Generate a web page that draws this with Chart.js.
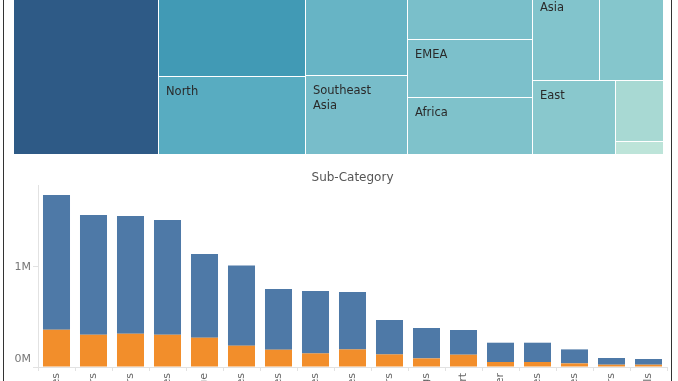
<!DOCTYPE html>
<html><head><meta charset="utf-8">
<script src="https://cdn.jsdelivr.net/npm/chart.js@4.4.1/dist/chart.umd.min.js"></script>
<style>
html,body{margin:0;padding:0;background:#fff;overflow:hidden;width:678px;height:381px;position:relative}
#tm{position:absolute;left:13px;top:-23px}
#bars{position:absolute;left:0;top:160px}
#frame{position:absolute;left:3px;top:0;width:667px;height:381px;border-left:1px solid #333;border-right:1px solid #333;pointer-events:none}
</style></head><body>
<canvas id="tm" width="650" height="177"></canvas>
<canvas id="bars" width="678" height="221"></canvas>
<div id="frame"></div>
<script>
// ---- Treemap data (Sales by Region) ----
const regionNames = ['Central','South','North','Oceania','Southeast Asia','North Asia','EMEA','Africa','Central Asia','West','East','Caribbean','Canada'];
const regionSales = [2822303,1600907,1248166,1100185,884423,848310,806161,783773,752827,725458,678781,324281,66928];
// squarified grouping of region indices (columns, then nested splits)
const treemapGroups = [[0],[1,2],[3,4],[5,6,7],[[8,9],[10,[11,12]]]];
const regionColors = ['#2e5a86','#419ab5','#58acc1','#67b4c5','#78bdca','#7abfca','#7cc0cb','#7fc2cb','#82c4cc','#85c6cc','#89c8cd','#a8d9d3','#bde4d9'];

// ---- Bar chart data (Sales by Sub-Category) ----
const subCategories = ['Phones','Copiers','Chairs','Bookcases','Storage','Appliances','Machines','Tables','Accessories','Binders','Furnishings','Art','Paper','Supplies','Envelopes','Fasteners','Labels'];
const salesHighlighted = [373000,323000,333000,323000,293000,213000,173000,136000,176000,126000,86000,123000,50000,50000,36000,23000,23000];
const salesOther = [1347000,1197000,1177000,1147000,837000,803000,607000,624000,574000,344000,304000,247000,193000,193000,140000,67000,57000];
const yTickValues = [0, 1000000];

Chart.defaults.font.family = '"DejaVu Sans", Verdana, sans-serif';

// ---- Treemap layout (slice-and-dice over the grouping, sized by value) ----
function sumNode(n){ return typeof n === 'number' ? regionSales[n] : n.reduce((s,c)=>s+sumNode(c),0); }
function layoutNode(n,x0,x1,y0,y1,horiz,out){
  if (typeof n === 'number'){ out.push({i:n,x0,x1,y0,y1}); return; }
  const total = sumNode(n); let pos = horiz ? x0 : y0;
  n.forEach(c=>{
    const f = sumNode(c)/total;
    if (horiz){ const w=(x1-x0)*f; layoutNode(c,pos,pos+w,y0,y1,false,out); pos+=w; }
    else { const h=(y1-y0)*f; layoutNode(c,x0,x1,pos,pos+h,true,out); pos+=h; }
  });
}
const totalSales = sumNode(treemapGroups);
const cells = [];
layoutNode(treemapGroups,0,totalSales,0,1,true,cells);

function isDark(hex){ const r=parseInt(hex.substr(1,2),16),g=parseInt(hex.substr(3,2),16),b=parseInt(hex.substr(5,2),16); return (0.299*r+0.587*g+0.114*b) < 110; }

const treemapPlugin = {
  id:'treemapCells',
  afterDatasetsDraw(chart){
    const {ctx, scales:{x,y}} = chart;
    ctx.save();
    cells.forEach(c=>{
      const L=Math.round(x.getPixelForValue(c.x0)), R=Math.round(x.getPixelForValue(c.x1));
      const T=Math.round(y.getPixelForValue(c.y0)), B=Math.round(y.getPixelForValue(c.y1));
      ctx.fillStyle = regionColors[c.i];
      ctx.fillRect(L+1, T+1, R-L-1, B-T-1);
      // label
      ctx.font = '11.5px "DejaVu Sans", Verdana, sans-serif';
      ctx.textBaseline = 'alphabetic'; ctx.textAlign = 'left';
      ctx.fillStyle = isDark(regionColors[c.i]) ? '#ffffff' : '#2a2a2a';
      const avail = R-L-20;
      const words = regionNames[c.i].split(' ');
      const lines=[]; let cur='';
      words.forEach(w=>{ const t = cur ? cur+' '+w : w; if (ctx.measureText(t).width <= avail) cur=t; else { if(cur) lines.push(cur); cur=w; } });
      if (cur) lines.push(cur);
      if (lines.some(l=>ctx.measureText(l).width > avail)) return;
      lines.forEach((ln,k)=>{ const by = T+19+15*k; if (by+3 <= B) ctx.fillText(ln, L+8, by); });
    });
    ctx.restore();
  }
};

new Chart(document.getElementById('tm'), {
  type:'scatter',
  data:{datasets:[{data:[]}]},
  options:{responsive:false, animation:false, events:[], layout:{padding:0},
    plugins:{legend:{display:false}, tooltip:{enabled:false}},
    scales:{x:{type:'linear',min:0,max:totalSales,display:false}, y:{type:'linear',min:0,max:1,reverse:true,display:false}}},
  plugins:[treemapPlugin]
});

// ---- Bar chart ----
new Chart(document.getElementById('bars'), {
  type:'bar',
  data:{labels:subCategories, datasets:[
    {label:'Highlighted', data:salesHighlighted, backgroundColor:'#f28e2b', barPercentage:0.73, categoryPercentage:1},
    {label:'Other', data:salesOther, backgroundColor:'#4e79a7', barPercentage:0.73, categoryPercentage:1}
  ]},
  options:{responsive:false, animation:false, events:[],
    layout:{padding:{left:0,right:11,top:0,bottom:0}},
    plugins:{legend:{display:false}, tooltip:{enabled:false}},
    scales:{
      x:{stacked:true, position:'bottom',
        grid:{offset:true, drawOnChartArea:false, drawTicks:true, tickLength:4, color:'#e2e2e2'},
        border:{display:true, color:'#e2e2e2'},
        ticks:{minRotation:90, maxRotation:90, autoSkip:false, padding:2, color:'#666', font:{size:11}},
        afterFit(s){ s.height=14; s.paddingLeft=0; s.paddingRight=0; }},
      x2:{axis:'x', type:'category', position:'top', labels:subCategories,
        grid:{display:false}, border:{display:false}, ticks:{display:false},
        title:{display:true, text:'Sub-Category', color:'#555', font:{size:12}, padding:{top:11,bottom:0}},
        afterFit(s){ s.height=25; s.paddingLeft=0; s.paddingRight=0; }},
      y:{stacked:true, min:0, max:1820000,
        afterBuildTicks(s){ s.ticks = yTickValues.map(v=>({value:v})); },
        grid:{drawOnChartArea:false, drawTicks:true, tickLength:5, color:'#e2e2e2'},
        border:{display:true, color:'#e2e2e2'},
        ticks:{padding:2, color:'#777',
          callback:(v)=> v===0 ? ['0M',''] : (v/1e6)+'M',
          font:(ctx)=>({size:11, lineHeight: (ctx.tick && ctx.tick.value===0) ? '16px' : 1.2})},
        afterFit(s){ s.width=38; s.paddingTop=0; s.paddingBottom=0; }}
    }
  }
});
</script>
</body></html>
